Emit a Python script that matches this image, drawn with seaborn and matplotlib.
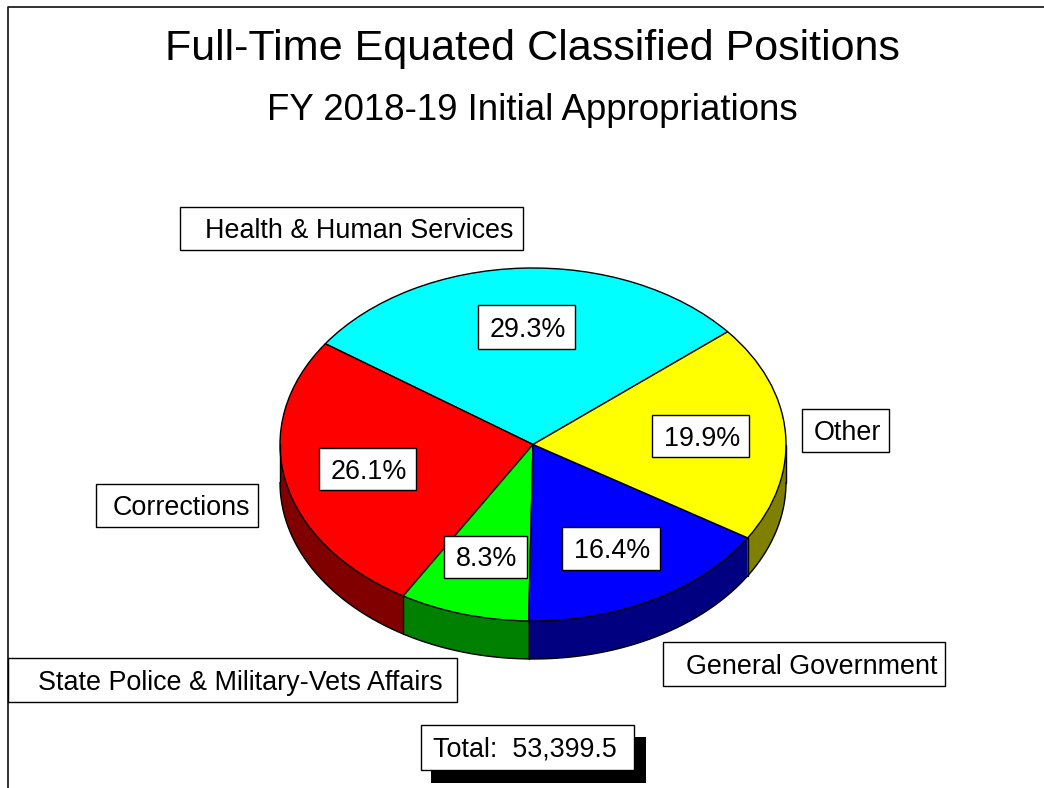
import numpy as np
import matplotlib
matplotlib.use("Agg")
import matplotlib.pyplot as plt
from matplotlib.patches import Rectangle
import seaborn as sns

categories = ["Health & Human Services", "Corrections", "State Police & Military-Vets Affairs",
              "General Government", "Other"]
shares = [29.3, 26.1, 8.3, 16.4, 19.9]
top_colors = ["#00FFFF", "#FF0000", "#00FF00", "#0000FF", "#FFFF00"]
side_colors = ["#008080", "#800000", "#008000", "#000080", "#808000"]
title = "Full-Time Equated Classified Positions"
subtitle = "FY 2018-19 Initial Appropriations"
total_text = "Total:  53,399.5"

W, H = 1044, 788
CX, CY, RX, RY, DEPTH = 533, 444.5, 253, 176.5, 38
START = 39.7

sns.set_theme(style="white")
plt.rcParams["font.family"] = ["Liberation Sans", "DejaVu Sans"]
plt.rcParams["text.color"] = "black"

fig = plt.figure(figsize=(W / 100, H / 100), dpi=100, facecolor="white")
ax = fig.add_axes([0, 0, 1, 1])
d = DEPTH / RY


def set_limits():
    ax.set_aspect("auto")
    ax.set_xlim(-CX / RX, (W - CX) / RX)
    ax.set_ylim(-(H - CY) / RY, CY / RY)


# extruded side, built from stacked pies of the same shares
for off in np.arange(DEPTH, 0, -0.5):
    ax.pie(shares, colors=side_colors, startangle=START, counterclock=True, normalize=True,
           center=(0, -off / RY), radius=1, wedgeprops=dict(linewidth=0, antialiased=True))
wedges, _ = ax.pie(shares, colors=top_colors, startangle=START, counterclock=True, normalize=True,
                   center=(0, 0), radius=1,
                   wedgeprops=dict(edgecolor="black", linewidth=1.0))
set_limits()

# rim outline and seams
t = np.radians(np.linspace(180, 360, 300))
ax.plot(np.cos(t), np.sin(t) - d, color="black", lw=1.0, zorder=5.5)
edges = [w.theta1 % 360 for w in wedges] + [180, 360]
for th in edges:
    if 180 <= th <= 360:
        r = np.radians(th)
        ax.plot([np.cos(r)] * 2, [np.sin(r), np.sin(r) - d], color="black", lw=1.0, zorder=5.5)
set_limits()
ax.axis("off")

# overlay in pixel units for frame, titles and label boxes
ov = fig.add_axes([0, 0, 1, 1], facecolor="none")
ov.set_xlim(0, W)
ov.set_ylim(H, 0)
ov.axis("off")
ov.plot([7.5, 7.5, W], [H, 6.5, 6.5], color="#222222", lw=1.3, clip_on=False)

ov.text(532, 48.5, title, fontsize=31.1, ha="center", va="center")
ov.text(532, 110.5, subtitle, fontsize=26.4, ha="center", va="center")

TEXT_DY = 2.5


def box(x0, y0, x1, y1, text, tx=None):
    ov.add_patch(Rectangle((x0, y0), x1 - x0, y1 - y0, fc="white", ec="black", lw=1.0, zorder=6))
    ym = (y0 + y1) / 2 + TEXT_DY
    if tx is None:
        ov.text((x0 + x1) / 2 + 1.5, ym, text, fontsize=19.4, ha="center", va="center", zorder=7)
    else:
        ov.text(tx, ym, text, fontsize=19.4, ha="left", va="center", zorder=7)


label_boxes = [(180, 207, 523, 250, 205), (96, 484, 258, 527, 113), (8, 658, 457, 702, 38),
               (663, 642, 945, 686, 686), (802, 409, 889, 452, 814)]
pct_boxes = [(478, 305, 575, 349), (319, 448, 416, 490), (444, 536, 527, 578),
             (562, 527, 660, 570), (652, 415, 749, 457)]
for name, b in zip(categories, label_boxes):
    box(b[0], b[1], b[2], b[3], name, tx=b[4])
for v, b in zip(shares, pct_boxes):
    box(*b, f"{v:.1f}%")

ov.add_patch(Rectangle((431, 737), 215, 46, fc="black", ec="black", lw=0, zorder=5))
box(421, 725, 634, 770, total_text, tx=433)

fig.savefig("out.png", dpi=100)
